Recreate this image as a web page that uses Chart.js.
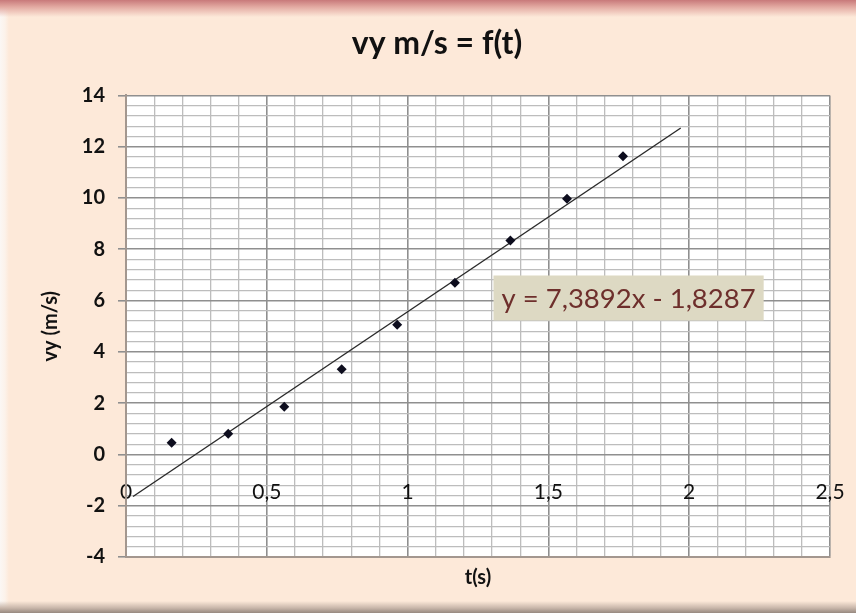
<!DOCTYPE html>
<html lang="fr">
<head>
<meta charset="UTF-8">
<title>vy m/s = f(t)</title>
<script src="https://cdn.jsdelivr.net/npm/chart.js"></script>
<style>
  html, body { margin: 0; padding: 0; }
  #frame {
    position: relative;
    width: 856px;
    height: 613px;
    background:
      linear-gradient(to bottom, #c8797a 0px, #e3aaa2 7px, rgba(253,233,217,0) 17px),
      linear-gradient(to top, #978980 0px, #c8b6aa 5px, rgba(253,233,217,0) 12px),
      linear-gradient(to right, #fbf7f4 0px, #fcf2ea 5px, rgba(253,233,217,0) 9px),
      #fde9d9;
  }
</style>
</head>
<body>
<div id="frame"><canvas id="vyChart"></canvas></div>
<script>
const tValues  = [0.162, 0.363, 0.562, 0.766, 0.963, 1.168, 1.365, 1.566, 1.765];
const vyValues = [0.46, 0.81, 1.86, 3.32, 5.06, 6.69, 8.34, 9.97, 11.63];

// droite de tendance (extrémités)
const trendT  = [0.025, 1.97];
const trendVy = [-1.64, 12.73];
const trendLabel = "y = 7,3892x - 1,8287";

// graduations principales
const xMajor = [0, 0.5, 1, 1.5, 2, 2.5];
const xTickLabels = ["0", "0,5", "1", "1,5", "2", "2,5"];
const yMajor = [-4, -2, 0, 2, 4, 6, 8, 10, 12, 14];
const yTickLabels = ["-4", "-2", "0", "2", "4", "6", "8", "10", "12", "14"];

function majorIndex(list, v) {
    return list.findIndex(m => Math.abs(m - v) < 1e-6);
}

const FONT = "Lato, 'Open Sans', sans-serif";

// fond blanc de la zone de tracé
const plotBackground = {
    id: "plotBackground",
    beforeDraw(chart) {
        const a = chart.chartArea;
        chart.ctx.save();
        chart.ctx.fillStyle = "#ffffff";
        chart.ctx.fillRect(a.left, a.top, a.right - a.left, a.bottom - a.top);
        chart.ctx.restore();
    }
};

// étiquette de l'équation
const equationBox = {
    id: "equationBox",
    afterDatasetsDraw(chart) {
        const ctx = chart.ctx;
        const x = chart.scales.x, y = chart.scales.y;
        ctx.save();
        ctx.font = "27.5px " + FONT;
        const w = ctx.measureText(trendLabel).width;
        const left = x.getPixelForValue(1.305);
        const mid = y.getPixelForValue(6.1);
        const h = 45;
        ctx.fillStyle = "#ddd9c3";
        ctx.fillRect(left, mid - h / 2, w + 16, h);
        ctx.fillStyle = "#6e2f2c";
        ctx.textBaseline = "middle";
        ctx.fillText(trendLabel, left + 8, mid + 1);
        ctx.restore();
    }
};

const points = tValues.map((t, i) => ({ x: t, y: vyValues[i] }));
const trend = trendT.map((t, i) => ({ x: t, y: trendVy[i] }));

new Chart(document.getElementById("vyChart"), {
    type: "scatter",
    data: {
        datasets: [
            {
                label: "vy",
                data: points,
                pointStyle: "rectRot",
                pointRadius: 5,
                backgroundColor: "#0d0d1e",
                borderColor: "#0d0d1e",
                borderWidth: 0
            },
            {
                label: "tendance",
                type: "line",
                data: trend,
                showLine: true,
                borderColor: "#2a2a2a",
                borderWidth: 1.4,
                pointRadius: 0
            }
        ]
    },
    options: {
        responsive: true,
        maintainAspectRatio: false,
        animation: false,
        layout: { padding: { left: 44, right: 26, top: 0, bottom: 0 } },
        plugins: {
            legend: { display: false },
            tooltip: { enabled: false },
            title: {
                display: true,
                text: "vy m/s = f(t)",
                color: "#111111",
                font: { family: FONT, size: 32, weight: "bold" },
                padding: { top: 24, bottom: 33 }
            }
        },
        scales: {
            x: {
                type: "linear",
                position: "bottom",
                min: 0,
                max: 2.5,
                afterFit(scale) {
                    scale.height = 56;
                    scale.paddingLeft = 0;
                    scale.paddingRight = 0;
                },
                ticks: {
                    stepSize: 0.1,
                    autoSkip: false,
                    maxRotation: 0,
                    mirror: true,
                    padding: 52,
                    color: "#111111",
                    font: { family: FONT, size: 21 },
                    callback(v) {
                        const i = majorIndex(xMajor, v);
                        return i >= 0 ? xTickLabels[i] : "";
                    }
                },
                grid: {
                    drawTicks: false,
                    color: ctx => majorIndex(xMajor, ctx.tick.value) >= 0 ? "#8f8f8f" : "#bdbdbd",
                    lineWidth: ctx => majorIndex(xMajor, ctx.tick.value) >= 0 ? 1.6 : 1.3
                },
                border: { color: "#a3978f", width: 2 },
                title: {
                    display: true,
                    text: "t(s)",
                    color: "#111111",
                    font: { family: FONT, size: 20, weight: "bold" },
                    padding: { top: 0, bottom: 23 }
                }
            },
            y: {
                type: "linear",
                position: "left",
                min: -4,
                max: 14,
                afterFit(scale) { scale.width = 82; },
                ticks: {
                    stepSize: 0.4,
                    autoSkip: false,
                    padding: 13,
                    color: "#111111",
                    font: { family: FONT, size: 20, weight: "bold" },
                    callback(v) {
                        const i = majorIndex(yMajor, v);
                        return i >= 0 ? yTickLabels[i] : "";
                    }
                },
                grid: {
                    tickLength: 8,
                    color: ctx => majorIndex(yMajor, ctx.tick.value) >= 0 ? "#8f8f8f" : "#bdbdbd",
                    tickColor: ctx => majorIndex(yMajor, ctx.tick.value) >= 0 ? "#8f8f8f" : "rgba(0,0,0,0)",
                    lineWidth: ctx => majorIndex(yMajor, ctx.tick.value) >= 0 ? 1.6 : 1.3
                },
                border: { color: "#a3978f", width: 2 },
                title: {
                    display: true,
                    text: "vy (m/s)",
                    color: "#111111",
                    font: { family: FONT, size: 20, weight: "bold" },
                    padding: { top: -5, bottom: 0 }
                }
            }
        }
    },
    plugins: [plotBackground, equationBox]
});
</script>
</body>
</html>
